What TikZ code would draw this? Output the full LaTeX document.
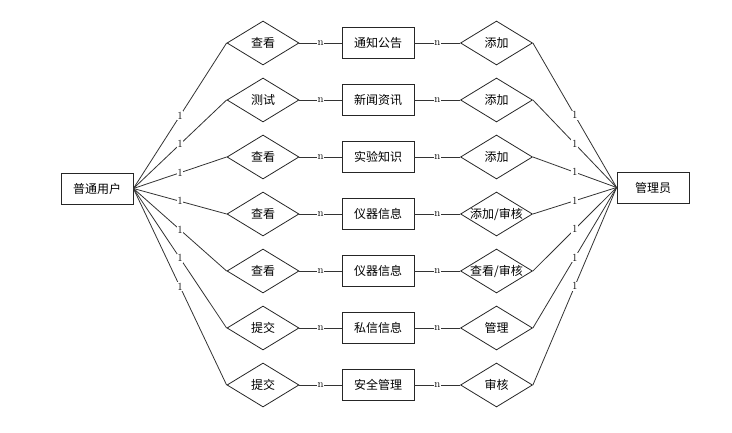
\documentclass[tikz,border=0pt]{standalone}
\usepackage{fontspec}
\newfontfamily\cjk{Noto Sans CJK SC}
\usetikzlibrary{shapes.geometric}
\begin{document}
\begin{tikzpicture}[x=1pt,y=-1pt,
  ent/.style={draw=black!85,line width=0.8pt,minimum width=72pt,minimum height=31pt,inner sep=0pt,font=\cjk\fontsize{12}{14}\selectfont},
  rel/.style={draw=black!85,line width=0.8pt,diamond,shape aspect=1.636,minimum width=72pt,minimum height=44pt,inner sep=0pt,font=\cjk\fontsize{12}{14}\selectfont},
  conn/.style={draw=black!80,line width=0.8pt},
  lbl/.style={fill=white,inner sep=0.6pt,font=\fontsize{11}{12}\selectfont}]
\useasboundingbox (0,0) rectangle (732,433);
\node[ent] (L) at (97,188.5) {普通用户};
\node[ent] (R) at (653,187.5) {管理员};
\foreach \i/\a/\b/\c in {0/查看/通知公告/添加,1/测试/新闻资讯/添加,2/查看/实验知识/添加,3/查看/仪器信息/{添加/审核},4/查看/仪器信息/{查看/审核},5/提交/私信信息/管理,6/提交/安全管理/审核}{
  \pgfmathsetmacro\yy{43+57*\i}
  \node[rel] (a\i) at (263,\yy) {\makebox[0pt]{\a}};
  \node[ent] (e\i) at (378,\yy) {\b};
  \node[rel] (c\i) at (496.5,\yy) {\makebox[0pt]{\c}};
  \draw[conn] (L.east) -- node[lbl]{1} (a\i.west);
  \draw[conn] (a\i.east) -- node[lbl]{n} (e\i.west);
  \draw[conn] (e\i.east) -- node[lbl]{n} (c\i.west);
  \draw[conn] (c\i.east) -- node[lbl]{1} (R.west);
}
\end{tikzpicture}
\end{document}
